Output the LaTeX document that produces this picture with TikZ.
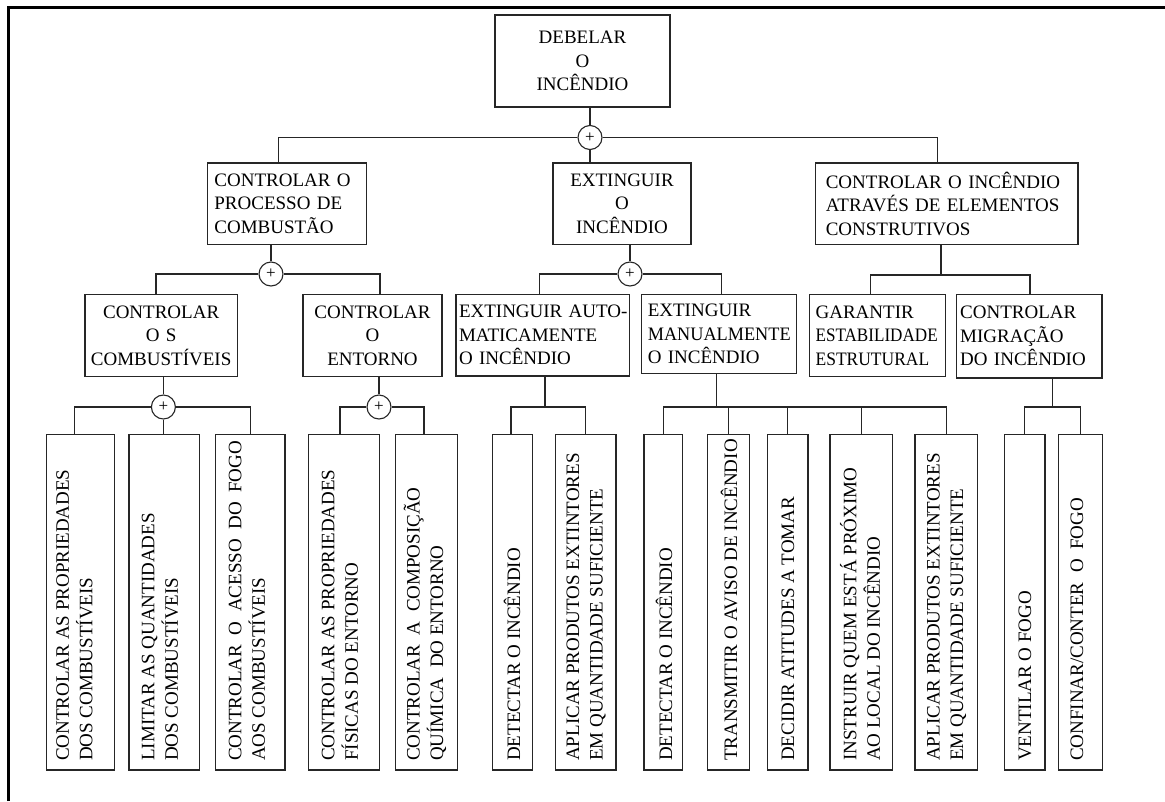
\documentclass[tikz,border=0pt]{standalone}
\usepackage{fontspec}
\setmainfont{Liberation Serif}
\begin{document}
\begin{tikzpicture}[x=1pt,y=-1pt,
  txt/.style={font=\fontsize{19}{23.5}\selectfont, inner sep=0pt},
  box/.style={draw=black!85, line width=1.2pt, inner sep=0pt, txt},
  lbox/.style={box, align=left},
  cbox/.style={box, align=center},
  leaf/.style={draw=black!85, line width=1.2pt, inner sep=0pt, minimum height=335.7pt},
  leaftext/.style={txt, rotate=90, anchor=west, align=left},
  andgate/.style={circle, draw=black!85, line width=1.1pt, fill=white, minimum size=24pt,
    inner sep=0pt, font=\fontsize{17}{17}\selectfont},
  wire/.style={draw=black!85, line width=1.2pt},
  frameline/.style={line width=2.6pt, black, line join=miter}
]
\useasboundingbox (0,0) rectangle (1165,801);
\draw[frameline] (8.5,801) -- (8.5,7.5) -- (1165,7.5);

% ---------- top goal ----------
\node[cbox, minimum width=175pt, minimum height=92pt, text width=165pt] (root) at (582.5,61) {DEBELAR\\O\\INCÊNDIO};
\node[andgate] (c0) at (590,137.5) {+};

% ---------- second level ----------
\node[lbox, minimum width=159.2pt, minimum height=81.3pt, text width=145.2pt] (A) at (287,203.65)
  {CONTROLAR~O\\PROCESSO~DE\\COMBUSTÃO};
\node[cbox, minimum width=138pt, minimum height=81.3pt, text width=130pt] (B) at (622,203.65)
  {EXTINGUIR\\O\\INCÊNDIO};
\node[lbox, minimum width=262.2pt, minimum height=81.3pt, text width=242.2pt] (C) at (946.9,203.65)
  {CONTROLAR~O~INCÊNDIO\\ATRAVÉS~DE~ELEMENTOS\\CONSTRUTIVOS};

\draw[wire] (c0 |- root.south) -- (c0.north);
\draw[wire] (c0.west) -| ([xshift=-8.4pt]A.north);
\draw[wire] (c0.east) -| ([xshift=-9.6pt]C.north);
\draw[wire] (c0.south) -- (c0.south |- B.north);

% ---------- third level ----------
\node[cbox, minimum width=152.3pt, minimum height=82.4pt, text width=148pt] (A1) at (161.15,335.5)
  {CONTROLAR\\O~S\\COMBUSTÍVEIS};
\node[cbox, minimum width=139pt, minimum height=82.4pt, text width=130pt] (A2) at (372.5,335.5)
  {CONTROLAR\\O\\ENTORNO};
\node[lbox, minimum width=173.4pt, minimum height=81.7pt, text width=167.4pt] (B1) at (542.7,335.2)
  {\mbox{EXTINGUIR AUTO-}\\MATICAMENTE\\O~INCÊNDIO};
\node[lbox, minimum width=154.7pt, minimum height=79pt, text width=142.7pt] (B2) at (719.15,333.8)
  {EXTINGUIR\\\scalebox{0.96}[1]{MANUALMENTE}\\O~INCÊNDIO};
\node[lbox, minimum width=136.2pt, minimum height=82.4pt, text width=124.2pt] (C1) at (877.7,335.5)
  {GARANTIR\\\scalebox{0.9}[1]{ESTABILIDADE}\\\scalebox{0.92}[1]{ESTRUTURAL}};
\node[lbox, minimum width=145.8pt, minimum height=83.7pt, text width=137.8pt] (C2) at (1029.1,336.2)
  {CONTROLAR\\MIGRAÇÃO\\DO~INCÊNDIO};

\node[andgate] (cA) at (271,274) {+};
\draw[wire] (cA |- A.south) -- (cA.north);
\draw[wire] ([xshift=-5.15pt]A1.north) |- (cA.west);
\draw[wire] ([xshift=7.5pt]A2.north) |- (cA.east);

\node[andgate] (cB) at (630,274) {+};
\draw[wire] (cB |- B.south) -- (cB.north);
\draw[wire] ([xshift=-3.1pt]B1.north) |- (cB.west);
\draw[wire] ([xshift=2.15pt]B2.north) |- (cB.east);

\coordinate (jC) at (941,275);
\draw[wire] (jC |- C.south) -- (jC);
\draw[wire] ([xshift=-7.1pt]C1.north) |- (jC) -| ([xshift=0.9pt]C2.north);

% ---------- basic events ----------
\node[leaf, minimum width=68.1pt] (l1) at (80.75,602.15) {};
\node[leaf, minimum width=70.8pt] (l2) at (164.4,602.15) {};
\node[leaf, minimum width=69.5pt] (l3) at (250.25,602.15) {};
\node[leaf, minimum width=71.1pt] (l4) at (344.05,602.15) {};
\node[leaf, minimum width=62pt] (l5) at (426.3,602.15) {};
\node[leaf, minimum width=39.6pt] (l6) at (512.5,602.15) {};
\node[leaf, minimum width=60.5pt] (l7) at (585.75,602.15) {};
\node[leaf, minimum width=38.7pt] (l8) at (663.35,602.15) {};
\node[leaf, minimum width=42pt] (l9) at (728.8,602.15) {};
\node[leaf, minimum width=40.4pt] (l10) at (787.8,602.15) {};
\node[leaf, minimum width=62.6pt] (l11) at (861.3,602.15) {};
\node[leaf, minimum width=62.4pt] (l12) at (946.2,602.15) {};
\node[leaf, minimum width=40.6pt] (l13) at (1024.7,602.15) {};
\node[leaf, minimum width=43.7pt] (l14) at (1080.6,602.15) {};

\node[leaftext] (t1) at (74.6,761) {CONTROLAR AS PROPRIEDADES\\DOS COMBUSTÍVEIS};
\node[leaftext] (t2) at (160,761) {LIMITAR AS QUANTIDADES\\DOS COMBUSTÍVEIS};
\node[leaftext] (t3) at (247,761) {CONTROLAR\ \ O\ \ ACESSO\ \ DO\ \ FOGO\\AOS COMBUSTÍVEIS};
\node[leaftext] (t4) at (340,761) {CONTROLAR AS PROPRIEDADES\\FÍSICAS DO ENTORNO};
\node[leaftext] (t5) at (425,761) {CONTROLAR\ \ A\ \ COMPOSIÇÃO\\QUÍMICA\ \ DO ENTORNO};
\node[leaftext] (t6) at (512,761) {DETECTAR O INCÊNDIO};
\node[leaftext] (t7) at (586,761) {APLICAR PRODUTOS EXTINTORES\\EM QUANTIDADE SUFICIENTE};
\node[leaftext] (t8) at (664,761) {DETECTAR O INCÊNDIO};
\node[leaftext] (t9) at (729,761) {TRANSMITIR O AVISO DE INCÊNDIO};
\node[leaftext] (t10) at (788,761) {DECIDIR ATITUDES A TOMAR};
\node[leaftext] (t11) at (860,761) {INSTRUIR QUEM ESTÁ PRÓXIMO\\AO LOCAL DO INCÊNDIO};
\node[leaftext] (t12) at (946.6,761) {APLICAR PRODUTOS EXTINTORES\\EM QUANTIDADE SUFICIENTE};
\node[leaftext] (t13) at (1025,761) {VENTILAR O FOGO};
\node[leaftext] (t14) at (1077,761) {CONFINAR/CONTER\ \ O\ \ FOGO};

% combustíveis: AND gate
\node[andgate] (cA1) at (163.4,407) {+};
\draw[wire] (cA1 |- A1.south) -- (cA1.north);
\draw[wire] ([xshift=-6.15pt]l1.north) |- (cA1.west);
\draw[wire] (cA1.east) -| (l3.north);
\draw[wire] (cA1.south) -- (cA1.south |- l2.north);

% entorno: AND gate
\node[andgate] (cA2) at (379,407) {+};
\draw[wire] (cA2 |- A2.south) -- (cA2.north);
\draw[wire] ([xshift=-4pt]l4.north) |- (cA2.west);
\draw[wire] ([xshift=-2.3pt]l5.north) |- (cA2.east);

% automatic extinction
\coordinate (jB1) at (545,407);
\draw[wire] (jB1 |- B1.south) -- (jB1);
\draw[wire] ([xshift=-1.5pt]l6.north) |- (jB1) -| (l7.north);

% manual extinction
\coordinate (jB2) at (716.3,407);
\draw[wire] (jB2 |- B2.south) -- (jB2);
\draw[wire] (l8.north) |- (jB2) -| (l12.north);
\draw[wire] (l9.north) -- (l9.north |- jB2);
\draw[wire] (l10.north) -- (l10.north |- jB2);
\draw[wire] (l11.north) -- (l11.north |- jB2);

% fire migration
\coordinate (jC2) at (1052.7,407);
\draw[wire] (jC2 |- C2.south) -- (jC2);
\draw[wire] (l13.north) |- (jC2) -| (l14.north);
\end{tikzpicture}
\end{document}
